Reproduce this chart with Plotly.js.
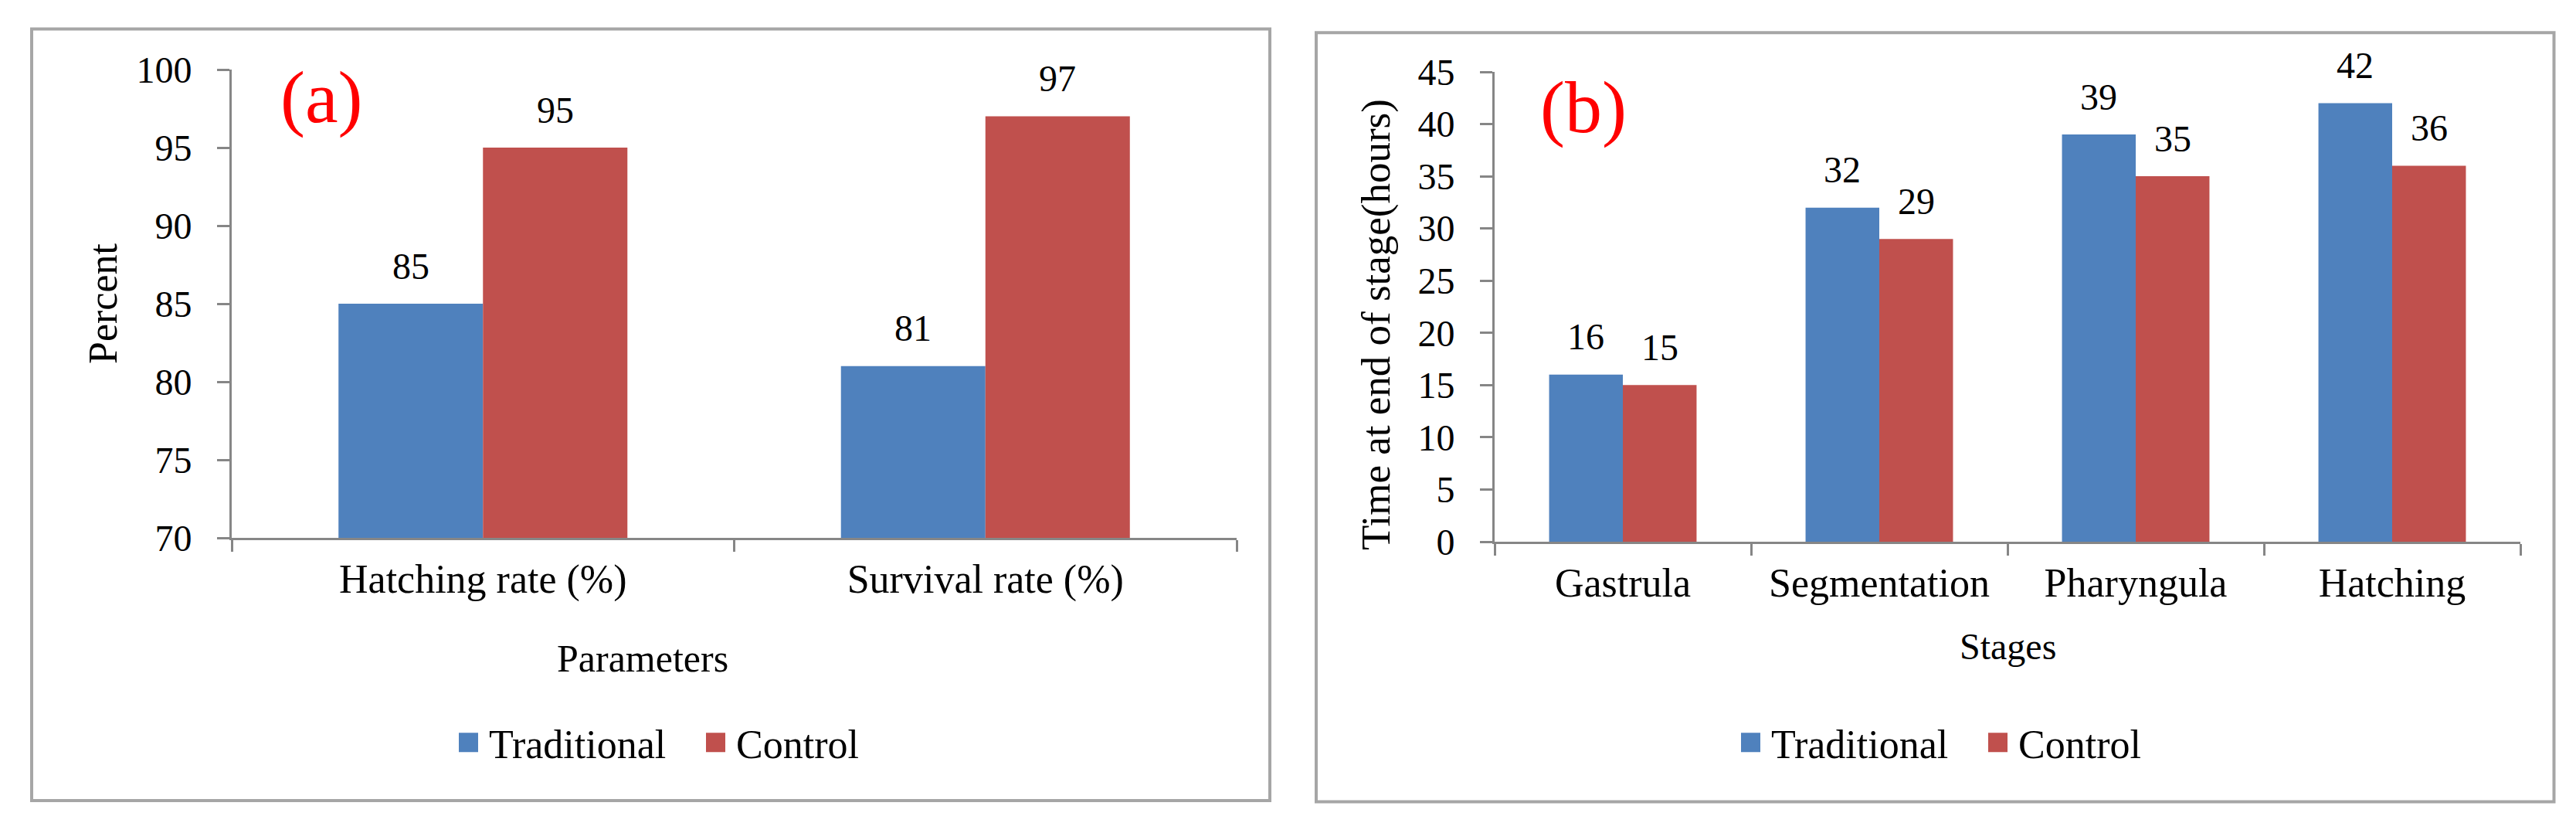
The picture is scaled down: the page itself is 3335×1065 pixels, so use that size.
<!DOCTYPE html>
<html>
<head>
<meta charset="utf-8">
<script src="https://cdn.plot.ly/plotly-3.0.1.min.js"></script>
<style>
  html, body { margin: 0; padding: 0; background: #ffffff; }
  #chart { width: 3335px; height: 1065px; }
</style>
</head>
<body>
<div id="chart"></div>
<script>
// ---- data ----
const seriesNames = ["Traditional", "Control"];
const categoriesA = ["Hatching rate (%)", "Survival rate (%)"];
const traditionalA = [85, 81];
const controlA = [95, 97];
const categoriesB = ["Gastrula", "Segmentation", "Pharyngula", "Hatching"];
const traditionalB = [16, 32, 39, 42];
const controlB = [15, 29, 35, 36];
const yTicksA = [70, 75, 80, 85, 90, 95, 100];
const yTicksB = [0, 5, 10, 15, 20, 25, 30, 35, 40, 45];

// ---- styling ----
const W = 3335, H = 1065;
const fx = p => p / W;
const fy = p => 1 - p / H;
const FONT = '"Liberation Serif", "Times New Roman", "DejaVu Serif", serif';
const BLUE = "#4F81BD", RED = "#C0504D";
const AXIS = "#868686";
const BARGAP = 0.425;
const halfBar = (1 - BARGAP) / 4; // centre offset of each of two grouped bars

const traces = [
  {type: "bar", name: seriesNames[0], x: categoriesA, y: traditionalA, marker: {color: BLUE}, xaxis: "x", yaxis: "y", legend: "legend", hoverinfo: "skip"},
  {type: "bar", name: seriesNames[1], x: categoriesA, y: controlA, marker: {color: RED}, xaxis: "x", yaxis: "y", legend: "legend", hoverinfo: "skip"},
  {type: "bar", name: seriesNames[0], x: categoriesB, y: traditionalB, marker: {color: BLUE}, xaxis: "x2", yaxis: "y2", legend: "legend2", hoverinfo: "skip"},
  {type: "bar", name: seriesNames[1], x: categoriesB, y: controlB, marker: {color: RED}, xaxis: "x2", yaxis: "y2", legend: "legend2", hoverinfo: "skip"}
];

function valueLabels(vals, xref, yref, side) {
  return vals.map((v, i) => ({
    xref: xref, yref: yref, x: i + side * halfBar, y: v,
    text: String(v), showarrow: false, xanchor: "center", yanchor: "middle",
    yshift: 49, font: {family: FONT, size: 48, color: "#000"}
  }));
}

const annotations = [].concat(
  valueLabels(traditionalA, "x", "y", -1),
  valueLabels(controlA, "x", "y", 1),
  valueLabels(traditionalB, "x2", "y2", -1),
  valueLabels(controlB, "x2", "y2", 1),
  [
    {xref: "paper", yref: "paper", x: fx(416), y: fy(125), text: "(a)", showarrow: false,
     xanchor: "center", yanchor: "middle", font: {family: FONT, size: 96, color: "#FF0000"}},
    {xref: "paper", yref: "paper", x: fx(2050), y: fy(138), text: "(b)", showarrow: false,
     xanchor: "center", yanchor: "middle", font: {family: FONT, size: 96, color: "#FF0000"}},
    {xref: "paper", yref: "paper", x: fx(134), y: fy(393), text: "Percent", textangle: -90, showarrow: false,
     xanchor: "center", yanchor: "middle", font: {family: FONT, size: 52, color: "#000"}},
    {xref: "paper", yref: "paper", x: fx(1782), y: fy(420), text: "Time at end of stage(hours)", textangle: -90, showarrow: false,
     xanchor: "center", yanchor: "middle", font: {family: FONT, size: 53, color: "#000"}},
    {xref: "paper", yref: "paper", x: fx(832), y: fy(852), text: "Parameters", showarrow: false,
     xanchor: "center", yanchor: "middle", font: {family: FONT, size: 50, color: "#000"}},
    {xref: "paper", yref: "paper", x: fx(2599), y: fy(836), text: "Stages", showarrow: false,
     xanchor: "center", yanchor: "middle", font: {family: FONT, size: 48, color: "#000"}}
  ]
);

const xCommon = {
  type: "category", showline: true, linecolor: AXIS, linewidth: 3,
  ticks: "outside", tickson: "boundaries", ticklen: 15, tickwidth: 3, tickcolor: AXIS,
  ticklabelstandoff: 6,
  tickfont: {family: FONT, size: 52, color: "#000"},
  showgrid: false, zeroline: false, automargin: false, fixedrange: true
};
const yCommon = {
  showline: true, linecolor: AXIS, linewidth: 3,
  ticks: "outside", ticklen: 16, tickwidth: 3, tickcolor: AXIS,
  ticklabelstandoff: 23,
  tickfont: {family: FONT, size: 48, color: "#000"},
  showgrid: false, zeroline: false, automargin: false, fixedrange: true
};

const legendCommon = {
  orientation: "h", xanchor: "left", yanchor: "middle",
  font: {family: FONT, size: 52, color: "#000"},
  bgcolor: "rgba(0,0,0,0)", borderwidth: 0,
  entrywidth: 275, entrywidthmode: "pixels", traceorder: "normal"
};

const layout = {
  width: W, height: H,
  margin: {l: 0, r: 0, t: 0, b: 0, pad: 0},
  paper_bgcolor: "#ffffff", plot_bgcolor: "#ffffff",
  barmode: "group", bargap: BARGAP, bargroupgap: 0,
  font: {family: FONT, color: "#000"},
  xaxis: Object.assign({}, xCommon, {domain: [fx(300), fx(1601)], anchor: "y"}),
  yaxis: Object.assign({}, yCommon, {domain: [fy(696), fy(90)], anchor: "x", range: [70, 100], tickvals: yTicksA}),
  xaxis2: Object.assign({}, xCommon, {domain: [fx(1935), fx(3263)], anchor: "y2"}),
  yaxis2: Object.assign({}, yCommon, {domain: [fy(701), fy(93)], anchor: "x2", range: [0, 45], tickvals: yTicksB}),
  legend: Object.assign({}, legendCommon, {x: fx(593), y: fy(961)}),
  legend2: Object.assign({}, legendCommon, {x: fx(2253), y: fy(961)}),
  annotations: annotations,
  shapes: [
    {type: "rect", xref: "paper", yref: "paper", x0: fx(41), x1: fx(1644), y0: fy(1036), y1: fy(37.5),
     line: {color: "#A6A6A6", width: 4}, fillcolor: "rgba(0,0,0,0)", layer: "below"},
    {type: "rect", xref: "paper", yref: "paper", x0: fx(1704), x1: fx(3306.5), y0: fy(1037.5), y1: fy(42.3),
     line: {color: "#A6A6A6", width: 4}, fillcolor: "rgba(0,0,0,0)", layer: "below"}
  ]
};

Plotly.newPlot("chart", traces, layout, {staticPlot: true, displayModeBar: false}).then(function () {
  // enlarge legend swatches to the reference's ~25px squares, sitting just left of the text
  document.querySelectorAll(".legendpoints path").forEach(function (p) {
    p.setAttribute("transform", "translate(13.5,0)");
    p.setAttribute("d", "M12.5,12.5H-12.5V-12.5H12.5Z");
  });
});
</script>
</body>
</html>
